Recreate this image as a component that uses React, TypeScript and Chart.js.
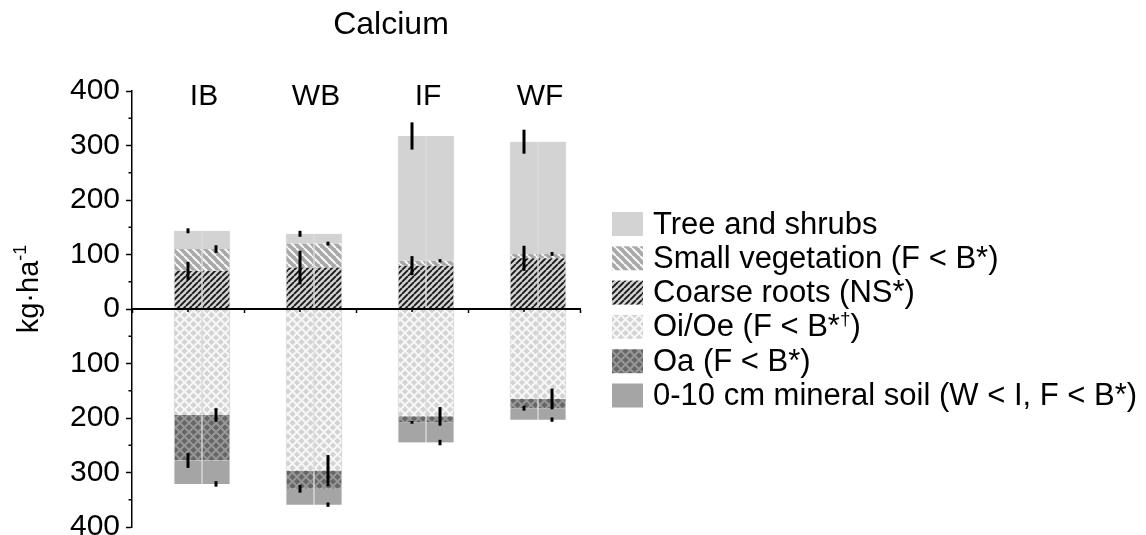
import React, { useEffect, useRef } from 'react';
import { Chart, registerables } from 'chart.js';

Chart.register(...registerables);

const FONT = "'Liberation Sans', Arial, Helvetica, sans-serif";

// ---------- data ----------
const categories = ['IB', 'WB', 'IF', 'WF'];
const chartTitle = 'Calcium';
const yAxisTitle = 'kg\u00B7ha';
const yAxisTitleSup = '-1';

// above-ground pools (positive, stacked upward)
const coarseRoots = [70, 76, 79.5, 93];
const smallVegetation = [40, 44, 9, 8];
const treeShrubs = [33.5, 18, 229, 206];
// forest-floor / soil pools (negative, stacked downward)
const oiOe = [-194.5, -296.5, -197, -165];
const oa = [-83.5, -33.5, -11, -17];
const mineralSoil = [-43, -29, -37, -21];

// error bars (±)
const coarseRootsErr = [16.5, 31, 17.5, 23];
const smallVegetationErr = [7, 3.5, 3, 3.5];
const treeShrubsErr = [4.5, 5.5, 25, 22];
const oiOeErr = [12.5, 28.5, 17, 19];
const oaErr = [13.5, 7, 2.5, 4.5];
const mineralSoilErr = [5, 4, 5, 4];

const seriesNames = [
  'Tree and shrubs',
  'Small vegetation (F < B*)',
  'Coarse roots (NS*)',
  'Oi/Oe (F < B*\u2020)',
  'Oa (F < B*)',
  '0-10 cm mineral soil (W < I, F < B*)',
];

const yMin = -400;
const yMax = 400;
const yStep = 100;
const yMinorTicks = [-350, -250, -150, -50, 50, 150, 250, 350];

// ---------- patterns ----------
function makePattern(size: number, bg: string, draw?: (g: CanvasRenderingContext2D, s: number) => void) {
  const c = document.createElement('canvas');
  c.width = size;
  c.height = size;
  const g = c.getContext('2d')!;
  g.fillStyle = bg;
  g.fillRect(0, 0, size, size);
  if (draw) draw(g, size);
  return g.createPattern(c, 'repeat')!;
}

function diag(g: CanvasRenderingContext2D, s: number, dir: string, color: string, w: number) {
  g.strokeStyle = color;
  g.lineWidth = w;
  g.beginPath();
  for (const o of [-s, 0, s]) {
    if (dir === '/') {
      g.moveTo(o, s);
      g.lineTo(o + s, 0);
    } else {
      g.moveTo(o, 0);
      g.lineTo(o + s, s);
    }
  }
  g.stroke();
}

export default function App() {
  const ref = useRef<HTMLCanvasElement | null>(null);

  useEffect(() => {
    const canvas = ref.current!;
    const fills = {
      tree: '#d3d3d3',
      smallVeg: makePattern(8, '#a8a8a8', (g, s) => diag(g, s, '\\', '#f6f6f6', 2.2)),
      roots: makePattern(6, '#d0d0d0', (g, s) => diag(g, s, '/', '#151515', 1.8)),
      oiOe: makePattern(9, '#d3d3d3', (g, s) => {
        diag(g, s, '/', '#f7f7f7', 2);
        diag(g, s, '\\', '#f7f7f7', 2);
      }),
      oa: makePattern(9, '#666666', (g, s) => {
        diag(g, s, '/', '#979797', 2);
        diag(g, s, '\\', '#979797', 2);
      }),
      mineral: '#a5a5a5',
    };

    // stacking order (first = nearest to zero); errSide = half-bar carrying the error bar
    const comps = [
      { name: seriesNames[2], data: coarseRoots, err: coarseRootsErr, errSide: 'L', fill: fills.roots },
      { name: seriesNames[1], data: smallVegetation, err: smallVegetationErr, errSide: 'R', fill: fills.smallVeg },
      { name: seriesNames[0], data: treeShrubs, err: treeShrubsErr, errSide: 'L', fill: fills.tree },
      { name: seriesNames[3], data: oiOe, err: oiOeErr, errSide: 'R', fill: fills.oiOe },
      { name: seriesNames[4], data: oa, err: oaErr, errSide: 'L', fill: fills.oa },
      { name: seriesNames[5], data: mineralSoil, err: mineralSoilErr, errSide: 'R', fill: fills.mineral },
    ];
    const legendFills = [fills.tree, fills.smallVeg, fills.roots, fills.oiOe, fills.oa, fills.mineral];

    const datasets: any[] = [
      { label: '', data: categories.map(() => null), stack: 'pad', barThickness: 28 },
    ];
    for (const side of ['L', 'R']) {
      for (const c of comps) {
        datasets.push({
          label: c.name,
          data: c.data,
          stack: side,
          backgroundColor: c.fill,
          borderColor: '#dcdcdc',
          borderWidth: { left: 1, right: 1, top: 0, bottom: 0 },
          borderSkipped: false,
          barThickness: 28,
          err: c.err,
          errSide: c.errSide,
        });
      }
    }

    const drawRich = (ctx: CanvasRenderingContext2D, text: string, x: number, y: number, size: number) => {
      const parts = text.split('\u2020');
      parts.forEach((p, k) => {
        if (k > 0) {
          ctx.font = `${Math.round(size * 0.62)}px ${FONT}`;
          ctx.fillText('\u2020', x, y - size * 0.36);
          x += ctx.measureText('\u2020').width;
        }
        ctx.font = `${size}px ${FONT}`;
        ctx.fillText(p, x, y);
        x += ctx.measureText(p).width;
      });
    };

    const decor = {
      id: 'decor',
      afterDatasetsDraw(chart: any) {
        const { ctx } = chart;
        const ys = chart.scales.y;
        const zero = ys.getPixelForValue(0);
        ctx.save();
        ctx.strokeStyle = '#000';
        ctx.lineWidth = 3;
        chart.data.datasets.forEach((ds: any, i: number) => {
          if (!ds.err || ds.stack !== ds.errSide) return;
          const meta = chart.getDatasetMeta(i);
          meta.data.forEach((el: any, j: number) => {
            const e = Math.abs(ys.getPixelForValue(ds.err[j]) - zero);
            ctx.beginPath();
            ctx.moveTo(el.x, el.y - e);
            ctx.lineTo(el.x, el.y + e);
            ctx.stroke();
          });
        });
        ctx.restore();
      },
      afterDraw(chart: any) {
        const { ctx, chartArea } = chart;
        const ys = chart.scales.y;
        const xs = chart.scales.x;
        ctx.save();
        ctx.fillStyle = '#000';
        ctx.strokeStyle = '#000';

        // minor ticks on the y axis
        ctx.lineWidth = 1.5;
        for (const v of yMinorTicks) {
          const py = ys.getPixelForValue(v);
          ctx.beginPath();
          ctx.moveTo(chartArea.left - 3.5, py);
          ctx.lineTo(chartArea.left, py);
          ctx.stroke();
        }
        // small ticks at category centres on the zero line
        const zero = ys.getPixelForValue(0);
        categories.forEach((_, i) => {
          const px = xs.getPixelForValue(i);
          ctx.beginPath();
          ctx.moveTo(px, zero);
          ctx.lineTo(px, zero + 3);
          ctx.stroke();
        });

        // title
        ctx.textAlign = 'center';
        ctx.textBaseline = 'alphabetic';
        ctx.font = `32px ${FONT}`;
        ctx.fillText(chartTitle, 391, 34);

        // category labels
        ctx.font = `30px ${FONT}`;
        categories.forEach((c, i) => {
          ctx.fillText(c, xs.getPixelForValue(i) + 16, 105);
        });

        // y axis title with superscript
        ctx.save();
        ctx.translate(38, 289);
        ctx.rotate(-Math.PI / 2);
        ctx.textAlign = 'left';
        ctx.font = `29px ${FONT}`;
        const w1 = ctx.measureText(yAxisTitle).width;
        ctx.font = `18px ${FONT}`;
        const w2 = ctx.measureText(yAxisTitleSup).width;
        const sx = -(w1 + w2) / 2;
        ctx.font = `29px ${FONT}`;
        ctx.fillText(yAxisTitle, sx, 0);
        ctx.font = `18px ${FONT}`;
        ctx.fillText(yAxisTitleSup, sx + w1, -12);
        ctx.restore();

        // legend
        ctx.textAlign = 'left';
        seriesNames.forEach((name, i) => {
          const cy = 224 + i * 34.3;
          ctx.fillStyle = legendFills[i];
          ctx.fillRect(612, cy - 12, 31, 24);
          ctx.fillStyle = '#000';
          drawRich(ctx, name, 653, cy + 9.5, 31);
        });
        ctx.restore();
      },
    };

    const chart = new Chart(canvas, {
      type: 'bar',
      data: { labels: categories, datasets },
      options: {
        animation: false,
        responsive: false,
        maintainAspectRatio: false,
        layout: { padding: { left: 0, top: 91, right: 566, bottom: 8 } },
        plugins: {
          legend: { display: false },
          tooltip: { enabled: false },
          title: { display: false },
        },
        scales: {
          x: {
            type: 'category',
            position: { y: 0 } as any,
            offset: true,
            grid: {
              display: true,
              drawOnChartArea: false,
              drawTicks: true,
              tickLength: 3,
              tickColor: '#000',
              tickWidth: 1.5,
              offset: true,
            },
            border: { display: true, color: '#000', width: 2, z: 1 } as any,
            ticks: { display: false },
            afterFit(s: any) {
              s.paddingLeft = 0;
              s.paddingRight = 0;
              s.paddingTop = 0;
              s.paddingBottom = 0;
            },
          },
          y: {
            stacked: true,
            min: yMin,
            max: yMax,
            ticks: {
              stepSize: yStep,
              callback: (v: any) => String(Math.abs(Number(v))),
              font: { family: FONT, size: 30 },
              color: '#000',
              padding: 6,
            },
            grid: {
              drawOnChartArea: false,
              drawTicks: true,
              tickLength: 6,
              tickColor: '#000',
              tickWidth: 1.5,
            },
            border: { display: true, color: '#000', width: 1.5 },
            afterFit(s: any) {
              s.width = 132;
              s.paddingTop = 0;
              s.paddingBottom = 0;
            },
          },
        },
      },
      plugins: [decor],
    } as any);

    return () => chart.destroy();
  }, []);

  return (
    <div style={{ position: 'absolute', left: 0, top: 0, width: 1146, height: 535, background: '#fff' }}>
      <canvas ref={ref} width={1146} height={535} style={{ width: 1146, height: 535, display: 'block' }} />
    </div>
  );
}
